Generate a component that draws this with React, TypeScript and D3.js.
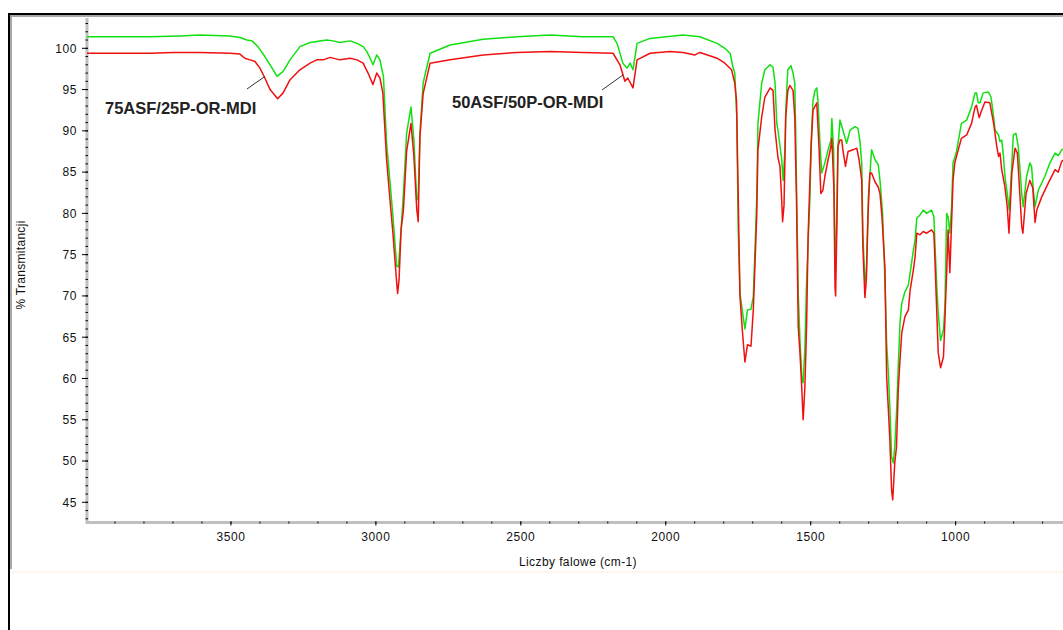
import React from 'react';
import * as d3 from 'd3';

// Spectrum values: [wavenumber (cm-1), % transmittance]
const greenSpectrum: [number, number][] = [
  [4000, 101.4], [3779, 101.4], [3676, 101.5], [3607, 101.6], [3503, 101.5], [3469, 101.3], [3445, 101.0],
  [3427, 100.9], [3407, 100.2], [3383, 99.0], [3358, 97.6], [3341, 96.6], [3320, 97.2], [3296, 98.6],
  [3262, 100.2], [3227, 100.7], [3170, 101.0], [3148, 100.9], [3124, 100.7], [3089, 100.9], [3065, 100.6],
  [3044, 100.2], [3031, 99.6], [3020, 98.8], [3010, 98.0], [2997, 99.2], [2986, 98.6], [2974, 96.6],
  [2963, 88.5], [2951, 83.7], [2941, 79.6], [2928, 73.6], [2922, 73.5], [2917, 76.0], [2905, 82.4],
  [2894, 89.7], [2879, 92.9], [2869, 89.0], [2859, 81.6], [2854, 82.0], [2848, 89.7], [2837, 95.8],
  [2813, 99.4], [2744, 100.4], [2630, 101.1], [2513, 101.4], [2399, 101.6], [2286, 101.4], [2182, 101.4],
  [2168, 100.6], [2148, 98.2], [2134, 97.6], [2123, 98.2], [2113, 97.4], [2099, 100.6], [2054, 101.2],
  [1941, 101.6], [1882, 101.4], [1823, 100.6], [1796, 100.0], [1778, 99.4], [1768, 97.7], [1762, 97.0],
  [1755, 91.7], [1750, 78.0], [1744, 70.3], [1733, 67.5], [1727, 66.0], [1718, 68.3], [1706, 68.4],
  [1698, 69.9], [1692, 75.9], [1686, 82.0], [1682, 90.9], [1669, 95.8], [1658, 97.4], [1640, 98.0],
  [1630, 97.7], [1623, 95.8], [1617, 90.9], [1613, 90.1], [1600, 86.5], [1595, 84.0], [1589, 87.7],
  [1586, 92.5], [1579, 97.4], [1568, 97.9], [1561, 97.0], [1555, 95.8], [1552, 90.5], [1543, 70.3],
  [1537, 64.6], [1530, 59.8], [1526, 59.5], [1520, 63.8], [1514, 71.9], [1503, 81.6], [1497, 89.7],
  [1492, 93.7], [1485, 94.9], [1479, 95.2], [1475, 93.7], [1468, 88.5], [1462, 84.9], [1451, 86.1],
  [1440, 87.7], [1430, 88.9], [1427, 91.5], [1421, 87.7], [1416, 74.7], [1413, 74.5], [1406, 88.0],
  [1399, 91.3], [1389, 90.1], [1376, 88.5], [1364, 90.1], [1347, 90.5], [1337, 90.3], [1330, 88.7],
  [1324, 86.1], [1320, 77.6], [1313, 71.5], [1308, 73.0], [1301, 82.0], [1290, 87.7], [1278, 86.5],
  [1267, 85.9], [1261, 84.0], [1252, 80.0], [1250, 78.0], [1244, 71.9], [1238, 64.3], [1232, 60.6],
  [1227, 56.6], [1221, 50.5], [1215, 49.8], [1210, 51.7], [1204, 55.8], [1198, 61.4], [1192, 66.7],
  [1186, 69.1], [1175, 70.5], [1163, 71.3], [1152, 74.0], [1146, 75.5], [1140, 76.8], [1134, 79.4],
  [1123, 79.8], [1112, 80.4], [1100, 80.0], [1083, 80.4], [1075, 79.6], [1071, 75.9], [1065, 71.1],
  [1060, 67.9], [1052, 64.6], [1042, 65.9], [1037, 68.7], [1031, 80.0], [1026, 79.6], [1020, 77.6],
  [1014, 80.8], [1009, 86.1], [997, 87.5], [980, 90.9], [962, 91.3], [945, 92.9], [933, 94.6],
  [928, 94.6], [922, 93.4], [916, 93.4], [905, 94.6], [887, 94.7], [878, 94.1], [869, 91.7],
  [864, 90.1], [852, 89.5], [847, 88.7], [841, 88.9], [835, 86.9], [830, 84.5], [822, 82.4],
  [815, 80.4], [806, 86.1], [801, 89.5], [792, 89.7], [784, 88.1], [778, 85.3], [772, 82.4],
  [767, 80.8], [755, 84.5], [744, 86.1], [738, 85.7], [732, 82.8], [726, 80.8], [715, 82.8],
  [692, 84.5], [675, 86.1], [657, 87.3], [646, 87.0], [634, 87.7], [620, 88.0],
];

const redSpectrum: [number, number][] = [
  [4000, 99.4], [3779, 99.4], [3700, 99.5], [3607, 99.5], [3503, 99.4], [3469, 99.3], [3452, 98.8],
  [3434, 98.6], [3417, 98.4], [3400, 97.6], [3383, 96.4], [3365, 95.0], [3339, 93.9], [3320, 94.6],
  [3296, 96.2], [3262, 97.4], [3227, 98.2], [3204, 98.6], [3182, 98.6], [3158, 98.9], [3124, 98.6],
  [3089, 98.8], [3065, 98.6], [3044, 98.2], [3027, 97.0], [3010, 95.6], [2997, 97.0], [2986, 96.4],
  [2976, 94.6], [2963, 86.5], [2951, 81.5], [2941, 77.5], [2928, 71.5], [2925, 70.3], [2920, 72.0],
  [2913, 78.0], [2905, 80.4], [2894, 87.5], [2879, 90.9], [2869, 87.0], [2859, 80.5], [2854, 79.0],
  [2848, 89.3], [2837, 94.5], [2813, 98.2], [2744, 98.6], [2630, 99.2], [2513, 99.5], [2399, 99.6],
  [2286, 99.5], [2182, 99.4], [2158, 98.0], [2141, 96.0], [2131, 96.4], [2113, 95.2], [2099, 98.6],
  [2054, 99.4], [1985, 99.6], [1941, 99.5], [1899, 99.2], [1882, 99.5], [1823, 98.8], [1796, 98.2],
  [1773, 97.4], [1762, 95.8], [1756, 93.7], [1750, 82.0], [1744, 70.0], [1736, 65.9], [1727, 62.0],
  [1718, 64.1], [1706, 63.9], [1698, 68.3], [1692, 74.0], [1686, 80.0], [1682, 87.7], [1669, 91.7],
  [1658, 94.1], [1640, 95.2], [1630, 94.9], [1623, 90.1], [1613, 86.8], [1606, 85.7], [1600, 81.6],
  [1597, 79.0], [1592, 81.0], [1586, 91.7], [1579, 94.9], [1572, 95.5], [1561, 94.9], [1555, 91.7],
  [1549, 81.6], [1543, 66.3], [1537, 63.1], [1531, 59.0], [1526, 55.0], [1520, 59.0], [1514, 66.7],
  [1509, 77.2], [1499, 88.0], [1492, 92.5], [1479, 93.4], [1471, 87.7], [1465, 82.4], [1458, 82.8],
  [1451, 84.5], [1440, 86.5], [1430, 88.1], [1427, 89.1], [1420, 83.0], [1416, 71.0], [1414, 70.0],
  [1409, 80.0], [1406, 88.1], [1399, 88.9], [1393, 88.9], [1389, 87.7], [1380, 85.7], [1371, 87.5],
  [1354, 87.7], [1341, 87.9], [1333, 86.5], [1324, 84.0], [1320, 76.0], [1313, 69.8], [1308, 72.0],
  [1302, 80.0], [1296, 84.9], [1290, 84.9], [1278, 83.8], [1267, 83.2], [1261, 82.4], [1254, 79.5],
  [1244, 73.5], [1238, 60.2], [1232, 56.2], [1227, 52.6], [1221, 46.5], [1217, 45.3], [1210, 49.8],
  [1204, 51.7], [1198, 58.6], [1192, 62.2], [1186, 65.5], [1175, 67.5], [1163, 68.3], [1157, 70.7],
  [1146, 73.1], [1140, 74.7], [1134, 77.6], [1123, 77.4], [1112, 77.8], [1100, 77.6], [1083, 78.0],
  [1075, 77.6], [1071, 74.0], [1065, 67.9], [1060, 63.1], [1052, 61.3], [1042, 62.6], [1037, 67.1],
  [1031, 72.8], [1026, 78.0], [1020, 72.8], [1014, 78.9], [1009, 84.0], [1003, 86.1], [991, 87.7],
  [980, 89.1], [962, 89.5], [945, 90.9], [933, 92.9], [928, 93.1], [919, 91.6], [910, 92.5],
  [899, 93.5], [882, 93.4], [869, 90.9], [858, 88.1], [852, 86.9], [847, 87.3], [841, 85.3],
  [830, 83.2], [822, 80.8], [816, 77.6], [806, 84.9], [795, 87.9], [787, 87.3], [780, 83.2],
  [772, 78.4], [768, 77.6], [757, 82.4], [744, 84.0], [734, 83.1], [726, 78.9], [720, 80.4],
  [703, 82.0], [680, 83.7], [657, 85.3], [646, 85.0], [634, 86.3], [620, 86.7],
];

const yMajorTicks = [45, 50, 55, 60, 65, 70, 75, 80, 85, 90, 95, 100];
const xMajorTicks = [3500, 3000, 2500, 2000, 1500, 1000];
const xAxisTitle = 'Liczby falowe (cm-1)';
const yAxisTitle = '% Transmitancji';
const annotationTexts = ['75ASF/25P-OR-MDI', '50ASF/50P-OR-MDI'];

const W = 1063;
const H = 630;

export default function App() {
  const left = 86;
  const top = 17;
  const bottom = 522.5;
  const x = d3.scaleLinear().domain([4000, 400]).range([left, left + 3600 * 0.28988]);
  const y = d3.scaleLinear().domain([45, 100]).range([502.3, 48.3]);
  const yTopVal = y.invert(top);
  const yBotVal = y.invert(bottom);

  const line = d3
    .line<[number, number]>()
    .x((d) => x(d[0]))
    .y((d) => y(d[1]));

  const yMinor = d3.range(Math.ceil(yBotVal), Math.floor(yTopVal) + 1, 1);
  const xMinor = d3.range(3900, 599, -100);

  const tickFont = { fontFamily: 'Liberation Sans, Arial, sans-serif', fontSize: 12, letterSpacing: 0.6, fill: '#111' };
  const annFont = { fontFamily: 'Liberation Sans, Arial, sans-serif', fontSize: 16.5, fontWeight: 'bold' as const, fill: '#222' };

  // annotation anchors in data space
  const ann = [
    { text: annotationTexts[0], tx: x.invert(105), ty: y.invert(113.5), l1: [3444.6, 95.07], l2: [3382.5, 96.6] },
    { text: annotationTexts[1], tx: x.invert(452), ty: y.invert(107.5), l1: [2220, 94.95], l2: [2147.5, 96.77] },
  ];

  return (
    <svg
      width={W}
      height={H}
      style={{ position: 'absolute', left: 0, top: 0, background: '#fff', display: 'block' }}
    >
      <defs>
        <clipPath id="plotclip">
          <rect x={left + 1} y={top} width={W - left} height={bottom - top - 1} />
        </clipPath>
      </defs>
      {/* window frame */}
      <rect x={0} y={0} width={W} height={H} fill="#fff" />
      <line x1={8} y1={14} x2={W} y2={14} stroke="#000" strokeWidth={2} />
      <line x1={9} y1={13} x2={9} y2={H} stroke="#000" strokeWidth={2} />
      <line x1={10} y1={16} x2={W} y2={16} stroke="#a8a8a8" strokeWidth={2} />
      <line x1={11} y1={15} x2={11} y2={569} stroke="#a8a8a8" strokeWidth={2} />
      <line x1={12} y1={572} x2={W} y2={572} stroke="#fbf3e4" strokeWidth={1.5} />

      {/* axes */}
      <line x1={left + 1} y1={top + 1} x2={left + 1} y2={bottom + 1} stroke="#c0c0c0" strokeWidth={3} />
      <line x1={left} y1={bottom} x2={W} y2={bottom} stroke="#c0c0c0" strokeWidth={3} />

      {yMinor.map((v) => (
        <line key={'ym' + v} x1={left - 0.5} x2={left + 2} y1={y(v)} y2={y(v)} stroke="#000" strokeWidth={1} />
      ))}
      {yMajorTicks.map((v) => (
        <g key={'yM' + v}>
          <line x1={left - 4} x2={left + 2} y1={y(v)} y2={y(v)} stroke="#000" strokeWidth={1} />
          <text x={77} y={y(v)} dy="0.36em" textAnchor="end" {...tickFont}>
            {v}
          </text>
        </g>
      ))}
      {xMinor.map((v) => (
        <line key={'xm' + v} x1={x(v)} x2={x(v)} y1={bottom - 1} y2={bottom + 1} stroke="#000" strokeWidth={1} />
      ))}
      {xMajorTicks.map((v) => (
        <g key={'xM' + v}>
          <line x1={x(v)} x2={x(v)} y1={bottom - 1} y2={bottom + 3} stroke="#000" strokeWidth={1} />
          <text x={x(v)} y={bottom + 18} textAnchor="middle" {...tickFont}>
            {v}
          </text>
        </g>
      ))}

      <text x={578} y={566} textAnchor="middle" {...tickFont} letterSpacing={0.4}>
        {xAxisTitle}
      </text>
      <text
        transform={`translate(25,${265}) rotate(-90)`}
        textAnchor="middle"
        {...tickFont}
        letterSpacing={0.3}
      >
        {yAxisTitle}
      </text>

      {/* spectra */}
      <g clipPath="url(#plotclip)">
        <path d={line(greenSpectrum) || ''} fill="none" stroke="#11e011" strokeWidth={1.5} strokeLinejoin="round" />
        <path d={line(redSpectrum) || ''} fill="none" stroke="#f01010" strokeWidth={1.5} strokeLinejoin="round" />
      </g>

      {/* annotations */}
      {ann.map((a) => (
        <g key={a.text}>
          <line x1={x(a.l1[0])} y1={y(a.l1[1])} x2={x(a.l2[0])} y2={y(a.l2[1])} stroke="#333" strokeWidth={1} />
          <text x={x(a.tx)} y={y(a.ty)} {...annFont}>
            {a.text}
          </text>
        </g>
      ))}
    </svg>
  );
}
